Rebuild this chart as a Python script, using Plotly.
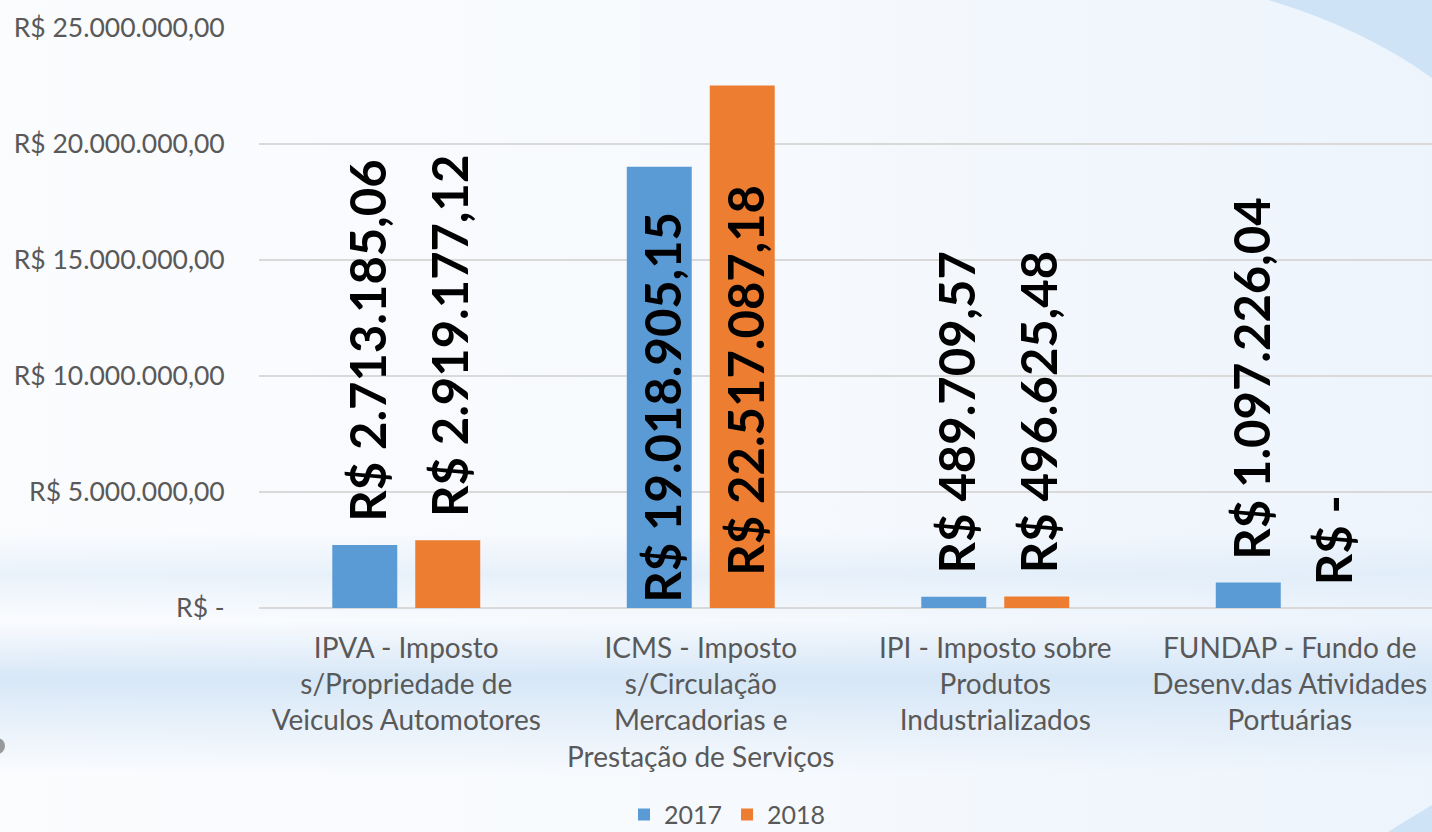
import base64
import plotly.graph_objects as go

# ---------------- data ----------------
categories = ["IPVA", "ICMS", "IPI", "FUNDAP"]
category_labels = [
    "IPVA - Imposto<br>s/Propriedade de<br>Veiculos Automotores",
    "ICMS - Imposto<br>s/Circulação<br>Mercadorias e<br>Prestação de Serviços",
    "IPI - Imposto sobre<br>Produtos<br>Industrializados",
    "FUNDAP - Fundo de<br>Desenv.das Atividades<br>Portuárias",
]
series_names = ["2017", "2018"]
values_2017 = [2713185.06, 19018905.15, 489709.57, 1097226.04]
values_2018 = [2919177.12, 22517087.18, 496625.48, 0.0]
y_tick_values = [0, 5000000, 10000000, 15000000, 20000000, 25000000]
y_tick_labels = ["R$ -", "R$ 5.000.000,00", "R$ 10.000.000,00",
                 "R$ 15.000.000,00", "R$ 20.000.000,00", "R$ 25.000.000,00"]

# ---------------- style ----------------
colors = ["#5B9BD5", "#ED7D31"]
text_grey = "#595959"
grid_grey = "#D9D9D9"
W, H = 1432, 832
ML, MR, MT, MB = 259, 0, 28, 224
PW, PH = W - ML - MR, H - MT - MB
# labels that would overflow the top are drawn inside the bar, near its base
inside_label_shift = {(1, 0): 3, (1, 1): 30}


def fmt_brl(v):
    if v == 0:
        return "R$ -"
    s = f"{v:,.2f}"
    s = s.replace(",", "X").replace(".", ",").replace("X", ".")
    return "R$ " + s


# background artwork (slide design) as an inline SVG
bg_svg = f'''<svg xmlns="http://www.w3.org/2000/svg" width="{W}" height="{H}" viewBox="0 0 {W} {H}" preserveAspectRatio="none">
<defs>
<linearGradient id="h" x1="0" y1="0" x2="1" y2="0">
<stop offset="0" stop-color="#FBFCFE"/><stop offset="0.55" stop-color="#F6F9FD"/><stop offset="1" stop-color="#EDF4FC"/>
</linearGradient>
<linearGradient id="v" x1="0" y1="0" x2="0" y2="1">
<stop offset="0" stop-color="#D3E5F6" stop-opacity="0"/>
<stop offset="0.64" stop-color="#D3E5F6" stop-opacity="0"/>
<stop offset="0.69" stop-color="#D3E5F6" stop-opacity="0.45"/>
<stop offset="0.745" stop-color="#D3E5F6" stop-opacity="0"/>
<stop offset="0.815" stop-color="#D3E5F6" stop-opacity="0.9"/>
<stop offset="0.93" stop-color="#D3E5F6" stop-opacity="0"/>
<stop offset="1" stop-color="#D3E5F6" stop-opacity="0"/>
</linearGradient>
</defs>
<rect x="0" y="0" width="{W}" height="{H}" fill="url(#h)"/>
<rect x="0" y="0" width="{W}" height="{H}" fill="url(#v)"/>
<path d="M1268,0 Q1362,28 1432,78 L1432,0 Z" fill="#CFE3F6"/>
<path d="M1388,832 Q1410,818 1432,805 L1432,832 Z" fill="#CFE3F6"/>
<circle cx="-3" cy="746" r="8" fill="#7A7A7A" opacity="0.75"/>
</svg>'''
bg_uri = "data:image/svg+xml;base64," + base64.b64encode(bg_svg.encode("utf-8")).decode("ascii")

fig = go.Figure()
all_values = [values_2017, values_2018]
for i, (name, vals) in enumerate(zip(series_names, all_values)):
    fig.add_trace(go.Bar(
        x=categories, y=vals, name=name,
        marker=dict(color=colors[i], line=dict(width=0)),
        hoverinfo="x+y",
    ))

annotations = []
bar_offset_px = 41.5
for i, vals in enumerate(all_values):
    for j, v in enumerate(vals):
        key = (j, i)
        if key in inside_label_shift:
            y, ys = 0, inside_label_shift[key]
        else:
            y, ys = v, 21
        annotations.append(dict(
            x=categories[j], y=y, xref="x", yref="y",
            text=fmt_brl(v), showarrow=False, textangle=-90,
            xanchor="center", yanchor="bottom",
            xshift=(-bar_offset_px if i == 0 else bar_offset_px) + 2, yshift=ys,
            font=dict(family="Lato", size=49, color="#000000", weight="bold"),
        ))

fig.update_layout(
    width=W, height=H, autosize=False,
    margin=dict(l=ML, r=MR, t=MT, b=MB, autoexpand=False),
    paper_bgcolor="#FFFFFF",
    plot_bgcolor="rgba(0,0,0,0)",
    barmode="group",
    bargap=0.4365,
    bargroupgap=0.217,
    font=dict(family="Lato", color=text_grey),
    showlegend=True,
    legend=dict(
        orientation="h", x=(727.5 - ML) / PW, xanchor="center",
        y=(608.3 - 815) / PH, yanchor="middle",
        font=dict(family="Lato", size=25, color=text_grey),
        bgcolor="rgba(0,0,0,0)", traceorder="normal",
    ),
    annotations=annotations,
    images=[dict(
        source=bg_uri, xref="paper", yref="paper",
        x=-ML / PW, y=1 + MT / PH, sizex=W / PW, sizey=H / PH,
        xanchor="left", yanchor="top", sizing="stretch", layer="below",
    )],
)

fig.update_xaxes(
    type="category", tickmode="array", tickvals=categories, ticktext=category_labels,
    range=[-0.5, 3.483], showgrid=False, showline=False, zeroline=False,
    ticks="outside", ticklen=15, tickcolor="rgba(0,0,0,0)", automargin=False,
    tickfont=dict(family="Lato", size=28, color=text_grey),
)
fig.update_yaxes(
    range=[0, 25000000], tickmode="array", tickvals=y_tick_values, ticktext=y_tick_labels,
    showgrid=True, gridcolor=grid_grey, gridwidth=1.5,
    zeroline=True, zerolinecolor=grid_grey, zerolinewidth=1.5, showline=False,
    ticks="outside", ticklen=28, tickcolor="rgba(0,0,0,0)", automargin=False,
    tickfont=dict(family="Lato", size=26.5, color=text_grey),
)

fig.write_html(
    "out.html",
    config={"displayModeBar": False, "responsive": False},
    post_script="document.body.style.margin='0';document.body.style.overflow='hidden';",
)
